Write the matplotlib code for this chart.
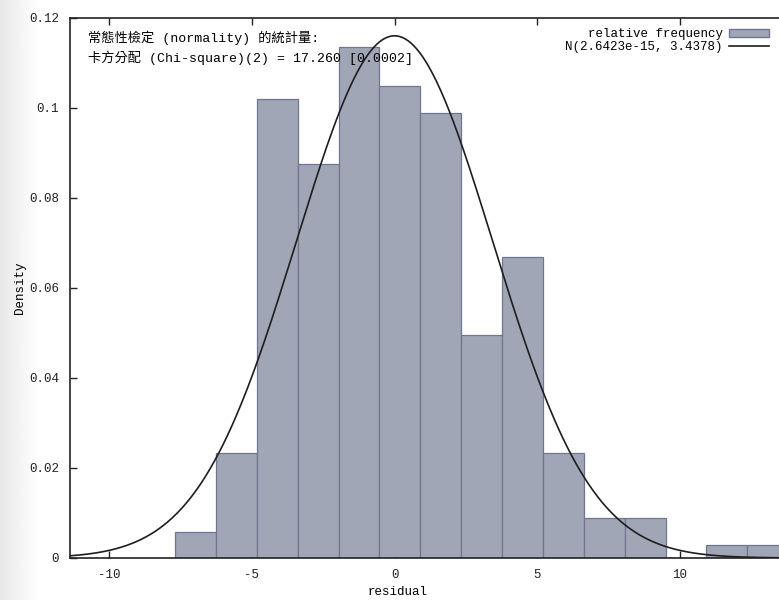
import numpy as np
import matplotlib
matplotlib.use('Agg')
import matplotlib.pyplot as plt
from matplotlib.patches import Patch
from matplotlib.lines import Line2D

# histogram of residuals (density), bins
bin_start = -7.69
bin_width = 1.432
densities = [0.0058, 0.0233, 0.1020, 0.0875, 0.1136, 0.1050, 0.0990,
             0.0496, 0.0669, 0.0233, 0.0089, 0.0089, 0.0, 0.0028, 0.0028]

# fitted normal from the legend
mu = 2.6423e-15
sigma = 3.4378

y_ticks = [0, 0.02, 0.04, 0.06, 0.08, 0.1, 0.12]
y_labels = ['0', '0.02', '0.04', '0.06', '0.08', '0.1', '0.12']
x_ticks = [-10, -5, 0, 5, 10]
note_lines = ['常態性檢定 (normality) 的統計量:',
              '卡方分配 (Chi-square)(2) = 17.260 [0.0002]']

plt.rcParams['font.family'] = ['Liberation Mono', 'Noto Sans CJK TC']
plt.rcParams['font.size'] = 9
plt.rcParams['axes.unicode_minus'] = False

fig = plt.figure(figsize=(7.79, 6.0), dpi=100)
# faint grey band at the left edge of the screenshot
grad = fig.add_axes([0, 0, 0.05, 1])
grad.imshow(np.linspace(0.91, 1.0, 50).reshape(1, -1), cmap='gray', vmin=0, vmax=1,
            aspect='auto', extent=[0, 1, 0, 1])
grad.axis('off')

ax = fig.add_axes([70 / 779, 42 / 600, 709 / 779, 540 / 600])

edges = bin_start + bin_width * np.arange(len(densities))
ax.bar(edges, densities, width=bin_width, align='edge',
       color='#a1a6b6', edgecolor='#6f7790', linewidth=0.9, zorder=2)

xmin, xmax = -11.37, 13.47
xs = np.linspace(xmin, xmax, 500)
pdf = np.exp(-0.5 * ((xs - mu) / sigma) ** 2) / (sigma * np.sqrt(2 * np.pi))
ax.plot(xs, pdf, color='#1e1e1e', lw=1.2, zorder=3)

ax.set_xlim(xmin, xmax)
ax.set_ylim(0, 0.12)
ax.set_xticks(x_ticks)
ax.set_yticks(y_ticks)
ax.set_yticklabels(y_labels)
ax.tick_params(direction='in', length=5, width=1, top=True, right=False,
               labelsize=9, colors='#222222', pad=8)
ax.spines['right'].set_visible(False)
for s in ['left', 'top', 'bottom']:
    ax.spines[s].set_linewidth(1.2)
    ax.spines[s].set_color('#222222')

ax.set_xlabel('residual', fontsize=9)
ax.set_ylabel('Density', fontsize=9)
ax.xaxis.set_label_coords((398 - 70) / 709, -34 / 540)
ax.yaxis.set_label_coords(-50 / 709, 0.5)
ax.xaxis.label.set_va('center')
ax.yaxis.label.set_va('center')

ax.text(0.026, 0.963, note_lines[0], transform=ax.transAxes, fontsize=9.5,
        va='center', ha='left', zorder=4)
ax.text(0.026, 0.926, note_lines[1], transform=ax.transAxes, fontsize=9.5,
        va='center', ha='left', zorder=4)

handles = [Patch(facecolor='#a1a6b6', edgecolor='#6f7790'),
           Line2D([0], [0], color='#1e1e1e', lw=1.2)]
labels = ['relative frequency', 'N(2.6423e-15, 3.4378)']
ax.legend(handles, labels, loc='upper right', bbox_to_anchor=(1.0, 1.0),
          frameon=False, markerfirst=False, fontsize=9, handlelength=3.2,
          handleheight=0.6, labelspacing=0.1, borderpad=0.3, handletextpad=0.5)

fig.savefig('out.png', dpi=100)
